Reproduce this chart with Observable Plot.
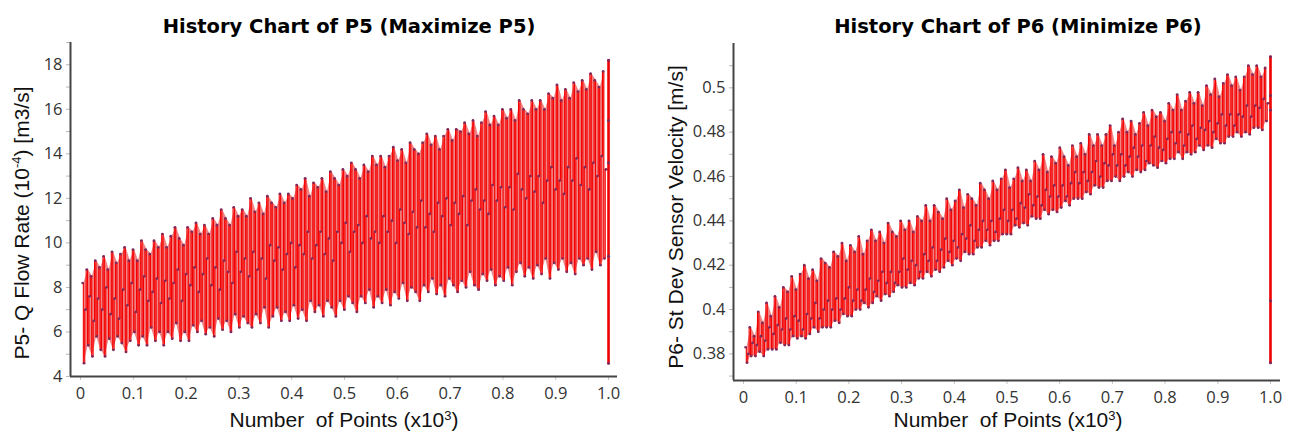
<!DOCTYPE html>
<html><head><meta charset="utf-8">
<script src="https://cdn.jsdelivr.net/npm/d3@7"></script>
<script src="https://cdn.jsdelivr.net/npm/@observablehq/plot@0.6"></script>
<style>
html,body{margin:0;padding:0;background:#fff;}
#wrap{position:relative;width:1297px;height:437px;overflow:hidden;background:#fff;}
.plot{position:absolute;top:0;}
.title{position:absolute;font-family:"DejaVu Sans";font-weight:bold;font-size:19.5px;line-height:1;white-space:pre;color:#000;transform:translateX(-50%);}
.xlab{position:absolute;font-family:"Liberation Sans";font-size:21px;line-height:1;white-space:pre;color:#111;transform:translateX(-50%);}
.ylab{position:absolute;font-family:"Liberation Sans";font-size:21px;line-height:1;white-space:pre;color:#111;transform:translate(-50%,-50%) rotate(-90deg);}
sup{font-size:0.62em;vertical-align:0.55em;line-height:0;}
</style></head><body><div id="wrap"></div><script>
// ---------- P5 (left) ----------
const p5Hi = [8.2,8.8,8.5,9.2,8.9,9.4,8.8,9.6,9.1,9.5,
9.8,9.2,9.7,9.2,10.1,9.7,9.5,10.1,9.8,10.4,
9.8,10.3,10.7,10.2,9.9,10.7,10.5,10.9,10.4,10.8,
10.4,11.1,10.8,11.5,11.1,10.8,11.6,11.2,11.5,11.2,
12.0,11.4,11.8,11.3,12.1,11.8,11.6,12.2,11.8,12.2,
12.0,12.6,12.4,12.9,12.1,12.7,12.5,12.9,12.3,13.2,
12.9,12.6,13.3,13.0,13.6,13.3,12.9,13.5,13.2,13.9,
13.5,13.9,13.4,13.9,14.3,13.7,14.2,13.6,14.5,14.2,
14.0,14.5,14.9,14.4,14.8,14.2,14.8,15.1,14.6,15.1,
15.0,15.4,14.9,15.5,14.8,15.4,15.9,15.3,15.7,15.3,
16.0,15.6,16.0,15.5,16.4,16.0,15.8,16.4,16.0,16.4,
16.0,16.7,16.5,17.1,16.4,16.9,16.5,17.2,16.8,17.3,
16.9,17.6,17.3,17.0,17.7];
const p5Lo = [4.6,5.4,4.9,5.8,5.2,4.9,5.7,5.2,5.8,5.5,
5.1,5.6,6.0,5.4,5.8,5.4,6.2,5.6,6.0,5.4,
6.0,5.7,6.4,5.6,6.0,5.6,6.3,6.0,6.5,5.9,
6.2,5.8,6.6,6.1,6.5,6.0,6.8,6.2,6.7,6.4,
6.2,6.8,6.4,7.1,6.2,6.7,7.1,6.5,6.9,6.5,
7.2,6.6,7.0,6.5,7.4,6.9,7.2,6.7,7.4,7.1,
6.7,7.4,7.0,7.6,7.3,6.9,7.6,7.3,7.9,7.1,
7.6,7.3,7.9,7.2,7.8,7.5,8.2,7.4,8.0,7.8,
7.4,8.1,7.8,8.4,7.7,8.1,7.6,8.4,8.1,7.8,
8.3,8.0,8.7,8.1,7.9,8.6,8.3,8.8,8.1,8.5,
8.3,8.9,8.1,8.7,9.1,8.5,8.9,8.4,9.0,8.6,
9.3,8.4,9.1,8.8,9.3,8.7,9.1,8.6,9.3,9.0,
9.3,8.8,9.6,9.0,9.3];
const p5Mid = [7.0,7.6,6.5,7.5,7.0,8.0,6.8,7.5,6.6,7.9,
7.2,8.2,6.9,7.9,8.5,7.4,7.8,8.4,7.3,8.3,
7.5,8.2,8.8,7.4,8.6,8.1,8.9,7.8,8.6,9.3,
8.1,8.9,7.9,9.2,8.7,8.2,9.6,8.7,9.3,8.5,
9.6,8.8,9.3,8.4,9.9,9.2,9.8,8.8,9.5,10.0,
8.9,9.9,9.5,10.5,9.3,9.9,10.5,9.5,10.2,9.2,
10.5,10.0,10.9,9.6,10.5,10.8,10.0,11.2,10.2,10.5,
10.0,11.2,10.5,11.0,10.0,11.5,10.9,10.4,11.4,10.7,
11.9,10.7,11.3,10.5,11.8,11.2,12.0,10.8,11.8,11.3,
12.1,10.8,11.9,12.4,11.5,11.9,11.3,12.6,11.9,12.5,
11.6,12.5,11.5,13.1,12.4,12.0,13.0,12.3,13.0,11.8,
12.8,13.4,12.4,12.8,12.2,13.4,12.8,13.8,12.6,13.4,
12.4,13.6,13.0,13.9,13.3];
const p5Tail = [18.2,15.5,13.6,9.4,4.6];
const p5YTicks = [4,6,8,10,12,14,16,18];
const p5YTickLabels = ["4","6","8","10","12","14","16","18"];
const p5YMinor = [4,5,6,7,8,9,10,11,12,13,14,15,16,17,18,19];

// ---------- P6 (right) ----------
const p6Hi = [0.383,0.392,0.388,0.399,0.394,0.403,0.397,0.406,0.401,0.410,
0.408,0.415,0.409,0.416,0.420,0.414,0.418,0.413,0.423,0.421,
0.419,0.426,0.424,0.430,0.422,0.429,0.426,0.433,0.425,0.431,
0.436,0.431,0.435,0.430,0.439,0.435,0.433,0.440,0.436,0.440,
0.435,0.442,0.440,0.447,0.440,0.447,0.444,0.441,0.450,0.445,
0.449,0.454,0.446,0.452,0.450,0.447,0.457,0.454,0.450,0.458,
0.454,0.459,0.463,0.455,0.459,0.464,0.458,0.463,0.458,0.467,
0.463,0.470,0.462,0.469,0.466,0.473,0.469,0.465,0.474,0.469,
0.475,0.470,0.479,0.474,0.479,0.474,0.479,0.483,0.474,0.480,
0.486,0.480,0.485,0.479,0.484,0.489,0.483,0.490,0.487,0.489,
0.485,0.493,0.490,0.497,0.490,0.494,0.498,0.493,0.498,0.492,
0.501,0.497,0.504,0.496,0.502,0.506,0.501,0.505,0.499,0.505,
0.510,0.506,0.510,0.505,0.509];
const p6Lo = [0.376,0.379,0.379,0.381,0.379,0.382,0.382,0.382,0.385,0.384,
0.384,0.388,0.387,0.388,0.387,0.389,0.392,0.390,0.392,0.392,
0.392,0.395,0.394,0.398,0.397,0.397,0.400,0.400,0.403,0.401,
0.403,0.406,0.404,0.407,0.406,0.408,0.411,0.410,0.410,0.412,
0.411,0.414,0.414,0.417,0.415,0.418,0.417,0.419,0.422,0.420,
0.423,0.422,0.426,0.425,0.425,0.428,0.428,0.431,0.429,0.431,
0.431,0.434,0.434,0.434,0.438,0.437,0.439,0.438,0.442,0.441,
0.441,0.445,0.443,0.445,0.444,0.446,0.449,0.447,0.450,0.450,
0.450,0.453,0.452,0.456,0.455,0.455,0.458,0.458,0.460,0.458,
0.460,0.462,0.460,0.463,0.462,0.463,0.466,0.465,0.464,0.467,
0.466,0.468,0.468,0.471,0.468,0.471,0.470,0.471,0.474,0.472,
0.474,0.473,0.477,0.475,0.475,0.478,0.478,0.480,0.478,0.480,
0.479,0.482,0.482,0.481,0.485];
const p6Mid = [0.380,0.385,0.384,0.388,0.386,0.392,0.389,0.393,0.391,0.396,
0.391,0.397,0.395,0.391,0.398,0.396,0.403,0.396,0.400,0.404,
0.400,0.405,0.400,0.405,0.410,0.404,0.409,0.404,0.409,0.414,
0.408,0.413,0.417,0.412,0.417,0.412,0.417,0.423,0.418,0.422,
0.420,0.417,0.425,0.422,0.428,0.422,0.427,0.432,0.426,0.431,
0.428,0.434,0.432,0.438,0.431,0.436,0.440,0.436,0.440,0.435,
0.441,0.445,0.440,0.445,0.441,0.448,0.446,0.452,0.447,0.451,
0.447,0.454,0.451,0.456,0.451,0.456,0.451,0.457,0.462,0.457,
0.462,0.458,0.462,0.467,0.460,0.466,0.465,0.470,0.465,0.470,
0.465,0.469,0.473,0.469,0.474,0.467,0.474,0.478,0.473,0.472,
0.477,0.480,0.475,0.480,0.474,0.479,0.483,0.477,0.482,0.481,
0.485,0.480,0.484,0.488,0.483,0.488,0.483,0.488,0.487,0.492,
0.487,0.492,0.491,0.495,0.493];
const p6Tail = [0.514,0.4965,0.490,0.404,0.376];
const p6YTicks = [0.38,0.40,0.42,0.44,0.46,0.48,0.50];
const p6YTickLabels = ["0.38","0.4","0.42","0.44","0.46","0.48","0.5"];
const p6YMinor = [0.37,0.38,0.39,0.40,0.41,0.42,0.43,0.44,0.45,0.46,0.47,0.48,0.49,0.50,0.51];

// ---------- shared x axis ----------
const xTicks = [0,0.1,0.2,0.3,0.4,0.5,0.6,0.7,0.8,0.9,1.0];
const xTickLabels = ["0","0.1","0.2","0.3","0.4","0.5","0.6","0.7","0.8","0.9","1.0"];
const xLabelHtml = "Number  of Points (x10<sup>3</sup>)";

// layout constants
const X0 = 0.004, STEP = 0.00265, TAILX = 1.0;

function buildSeries(hi, lo, mid, tail) {
  const pts = [], cyc = [];
  for (let i = 0; i < hi.length; i++) {
    const j = 3 * i;
    pts.push({x: X0 + j * STEP, y: hi[i]});
    pts.push({x: X0 + (j + 1) * STEP, y: lo[i]});
    pts.push({x: X0 + (j + 2) * STEP, y: mid[i]});
    cyc.push({x: X0 + (j + 1) * STEP, lo: lo[i], hi: hi[i]});
  }
  const last = pts[pts.length - 1];
  const tailPts = tail.map(v => ({x: TAILX, y: v}));
  return {pts, cyc, tailPts, link: [last, tailPts[0]]};
}

function chart(cfg) {
  const s = buildSeries(cfg.hi, cfg.lo, cfg.mid, cfg.tail);
  return Plot.plot({
    width: cfg.width, height: 437,
    marginLeft: cfg.ml, marginRight: cfg.mr, marginTop: cfg.mt, marginBottom: cfg.mb,
    x: {domain: cfg.xDomain},
    y: {domain: cfg.yDomain},
    style: {fontFamily: "Open Sans", fontSize: "16.5px", color: "#333", background: "transparent", overflow: "visible"},
    marks: [
      Plot.areaY(s.cyc, {x: "x", y1: "lo", y2: "hi", fill: "#ee5a5a", fillOpacity: 0.75}),
      Plot.line(s.pts, {x: "x", y: "y", stroke: "#f50000", strokeWidth: 1.1, curve: "step"}),
      Plot.line(s.link, {x: "x", y: "y", stroke: "#f50000", strokeWidth: 1.1, curve: "step-after"}),
      Plot.line(s.tailPts, {x: "x", y: "y", stroke: "#ee0000", strokeWidth: 2.6}),
      Plot.dot(s.pts, {x: "x", y: "y", r: 1.35, fill: "#7d2a5c", stroke: null}),
      Plot.dot(s.tailPts, {x: "x", y: "y", r: 1.5, fill: "#7d2a5c", stroke: null}),
      Plot.axisY({ticks: cfg.yMinor, tickSize: 4, tickFormat: () => "", stroke: "#b8b8b8", label: null}),
      Plot.axisY({ticks: cfg.yTicks, tickSize: 0, tickPadding: 8, label: null,
        tickFormat: d => cfg.yLabels[cfg.yTicks.indexOf(d)], fill: "#333"}),
      Plot.axisX({ticks: xTicks, tickSize: 4, tickFormat: () => "", stroke: "#c4c4c4", label: null}),
      Plot.axisX({ticks: xTicks, tickSize: 0, tickPadding: 11, label: null,
        tickFormat: d => xTickLabels[xTicks.indexOf(d)], fill: "#333"}),
      Plot.ruleX([cfg.xDomain[0]], {stroke: "#444", strokeWidth: 2}),
      Plot.ruleY([cfg.yDomain[0]], {stroke: "#444", strokeWidth: 2})
    ]
  });
}

const wrap = document.getElementById("wrap");
function place(el, left) { el.classList.add("plot"); el.style.left = left + "px"; wrap.appendChild(el); }

place(chart({hi: p5Hi, lo: p5Lo, mid: p5Mid, tail: p5Tail, width: 650, ml: 70, mr: 33, mt: 42, mb: 61,
  xDomain: [-0.019, 1.017], yDomain: [4, 19], yTicks: p5YTicks, yLabels: p5YTickLabels, yMinor: p5YMinor}), 0);
place(chart({hi: p6Hi, lo: p6Lo, mid: p6Mid, tail: p6Tail, width: 637, ml: 73, mr: 17, mt: 43, mb: 57,
  xDomain: [-0.019, 1.019], yDomain: [0.368, 0.52], yTicks: p6YTicks, yLabels: p6YTickLabels, yMinor: p6YMinor}), 660);

function addText(cls, html, left, top) {
  const d = document.createElement("div");
  d.className = cls; d.innerHTML = html;
  d.style.left = left + "px"; d.style.top = top + "px";
  wrap.appendChild(d);
}
addText("title", "History Chart of P5 (Maximize P5)", 349, 16.5);
addText("title", "History Chart of P6 (Minimize P6)", 1018, 16.5);
addText("xlab", xLabelHtml, 344, 409);
addText("xlab", xLabelHtml, 1008, 409);
addText("ylab", "P5- Q Flow Rate (10<sup>-4</sup>) [m3/s]", 21, 223);
addText("ylab", "P6- St Dev Sensor Velocity [m/s]", 675, 217);
</script></body></html>
